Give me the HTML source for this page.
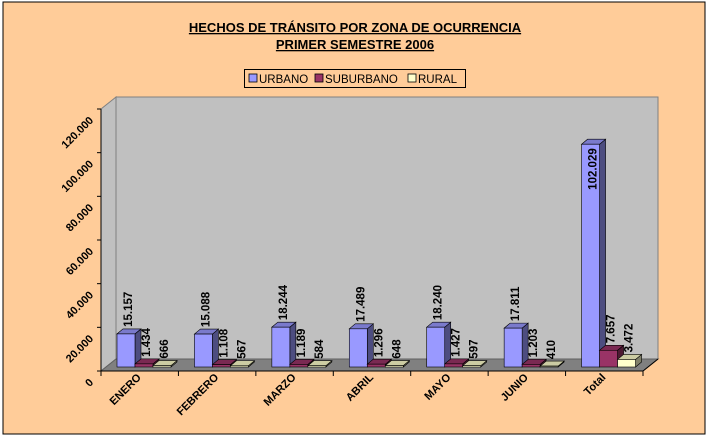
<!DOCTYPE html>
<html><head><meta charset="utf-8"><style>
html,body{margin:0;padding:0;background:#fff}
svg{display:block;font-family:"Liberation Sans",Arial,sans-serif}
</style></head><body>
<svg id="c" width="708" height="439" viewBox="0 0 708 439">
<rect x="3" y="2" width="702" height="432" fill="#FFCC99" stroke="#000" stroke-width="1"/>
<text x="355" y="32" text-anchor="middle" font-size="13" font-weight="bold" text-decoration="underline">HECHOS DE TRÁNSITO POR ZONA DE OCURRENCIA</text>
<text x="355" y="49" text-anchor="middle" font-size="13" font-weight="bold" text-decoration="underline">PRIMER SEMESTRE 2006 </text>
<g>
<rect x="244.5" y="69.5" width="221" height="18" fill="#FFCC99" stroke="#000"/>
<g><rect x="249" y="74" width="8" height="8" fill="#9999FF" stroke="#000" stroke-width="0.8"/><text x="259" y="83" font-size="11.5">URBANO</text></g>
<g><rect x="315" y="74" width="8" height="8" fill="#993366" stroke="#000" stroke-width="0.8"/><text x="325" y="83" font-size="11.5">SUBURBANO</text></g>
<g><rect x="408" y="74" width="8" height="8" fill="#FFFFCC" stroke="#000" stroke-width="0.8"/><text x="418" y="83" font-size="11.5">RURAL</text></g>
</g>
<g id="plot"></g>
</svg>
<script>
const categories=["ENERO","FEBRERO","MARZO","ABRIL","MAYO","JUNIO","Total"];
const urbano=[15157,15088,18244,17489,18240,17811,102029];
const suburbano=[1434,1108,1189,1296,1427,1203,7657];
const rural=[666,567,584,648,597,410,3472];
const yTicks=[0,20000,40000,60000,80000,100000,120000];
const yTickLabels=["0","20.000","40.000","60.000","80.000","100.000","120.000"];
const fmt=v=>String(Math.round(v)).replace(/\B(?=(\d{3})+(?!\d))/g,'.');

const NS="http://www.w3.org/2000/svg";
const g=document.getElementById('plot');
function el(tag,attrs,parent){const e=document.createElementNS(NS,tag);for(const k in attrs)e.setAttribute(k,attrs[k]);(parent||g).appendChild(e);return e;}
const X0=101,X1=643,Y0=371,DX=15,DY=-12,YMAX=120000,H=262;
const y=v=>Y0-v/YMAX*H;
const catW=(X1-X0)/categories.length;
let w=el('polygon',{points:`${X0},${Y0} ${X0+DX},${Y0+DY} ${X0+DX},${y(YMAX)+DY} ${X0},${y(YMAX)}`,fill:'#C0C0C0',stroke:'#808080'});

w=el('rect',{x:X0+DX,y:y(YMAX)+DY,width:X1-X0,height:H,fill:'#C0C0C0',stroke:'#808080'});

w=el('polygon',{points:`${X0},${Y0} ${X1},${Y0} ${X1+DX},${Y0+DY} ${X0+DX},${Y0+DY}`,fill:'#808080',stroke:'#606060'});

w=el('line',{x1:X0,y1:y(YMAX),x2:X0,y2:Y0,stroke:'#000'});

w=el('line',{x1:X0,y1:Y0,x2:X1,y2:Y0,stroke:'#000'});

el('line',{x1:X1,y1:Y0,x2:X1+DX,y2:Y0+DY,stroke:'#000'});
yTicks.forEach((t,i)=>{
  el('line',{x1:X0-4,y1:y(t),x2:X0,y2:y(t),stroke:'#000'});
  const tx=el('text',{x:94,y:y(t)+12,'text-anchor':'end','font-size':'11','font-weight':'bold',transform:`rotate(-45 94 ${y(t)+12})`});
  tx.textContent=yTickLabels[i];
  
  
});
for(let i=0;i<=categories.length;i++){el('line',{x1:X0+i*catW,y1:Y0,x2:X0+i*catW,y2:Y0+5,stroke:'#000'});}
const series=[{d:urbano,f:'#9999FF',s:'#4D4D80',t:'#7A7ACC',n:'urbano'},{d:suburbano,f:'#993366',s:'#4D1A33',t:'#7A2952',n:'suburbano'},{d:rural,f:'#FFFFCC',s:'#80806A',t:'#CCCCA3',n:'rural'}];
const bw=18,bdx=6,bdy=-5,base=367;
const sc=H/YMAX;
categories.forEach((c,i)=>{
  const cx=X0+i*catW;
  const lb=el('text',{x:cx+catW/2+2,y:378,'text-anchor':'end','font-size':'11','font-weight':'bold',transform:`rotate(-45 ${cx+catW/2+2} 378)`});
  lb.textContent=c;
  
  
  series.forEach((s,j)=>{
    const v=s.d[i];const h=v*sc;const bx=cx+16+j*bw;const top=base-h;
    const gg=el('g',{});
    
    
    el('polygon',{points:`${bx+bw},${base} ${bx+bw+bdx},${base+bdy} ${bx+bw+bdx},${top+bdy} ${bx+bw},${top}`,fill:s.s,stroke:'#000','stroke-width':0.6},gg);
    el('polygon',{points:`${bx},${top} ${bx+bdx},${top+bdy} ${bx+bw+bdx},${top+bdy} ${bx+bw},${top}`,fill:s.t,stroke:'#000','stroke-width':0.6},gg);
    el('rect',{x:bx,y:top,width:bw,height:h,fill:s.f,stroke:'#000','stroke-width':0.6},gg);
    const inside=h>150;
    const lx=bx+bw/2+6, ly=inside?top+4:top-7;
    const t=el('text',{x:lx,y:ly,'text-anchor':inside?'end':'start','font-size':'11.5','font-weight':'bold',transform:`rotate(-90 ${lx} ${ly})`});
    t.textContent=fmt(v);
    
    
  });
});
</script>
</body></html>
